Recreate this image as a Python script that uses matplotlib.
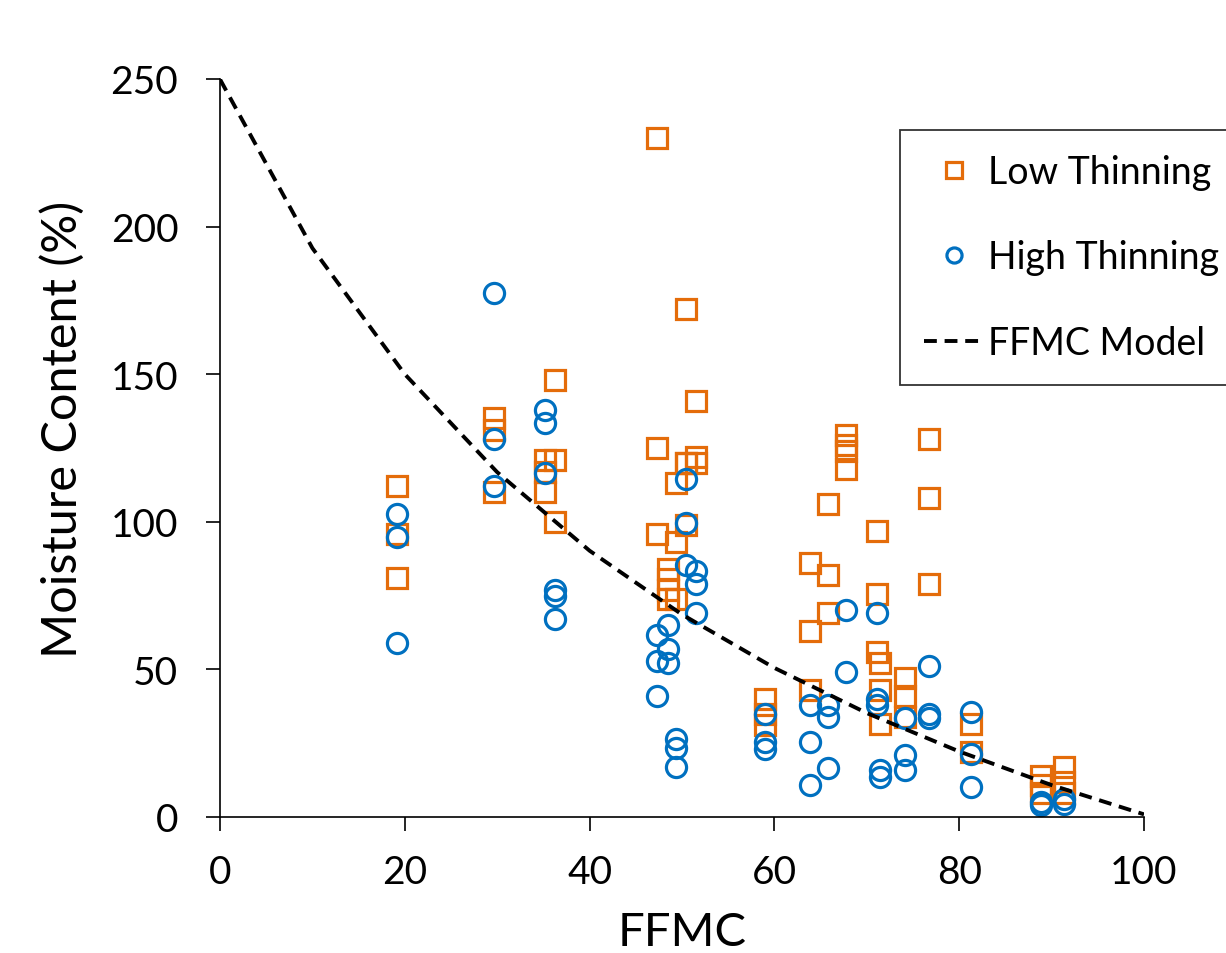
import matplotlib.pyplot as plt

plt.rcParams['font.family'] = ['Lato', 'DejaVu Sans']

# Low thinning plots (FFMC, moisture content %)
low_ffmc = [19.2, 19.2, 19.2,
            29.7, 29.7, 29.7,
            35.2, 35.2, 35.2,
            36.3, 36.3, 36.3,
            47.3, 47.3, 47.3,
            48.5, 48.5, 48.5, 48.5, 49.4, 49.4, 49.4,
            50.4, 50.4, 50.4, 50.4,
            51.5, 51.5, 51.5,
            59.0, 59.0, 59.0,
            63.9, 63.9, 63.9,
            65.8, 65.8, 65.8,
            67.7, 67.7, 67.7, 67.7,
            71.1, 71.1, 71.1, 71.4, 71.4, 71.4,
            74.1, 74.1, 74.1,
            76.7, 76.7, 76.7,
            81.3, 81.3,
            88.9, 88.9, 88.9,
            91.3, 91.3, 91.3]
low_mc = [112, 96, 81,
          135, 131, 110,
          121, 117, 110,
          148, 121, 100,
          230, 125, 96,
          84, 80.5, 77, 74, 113, 93, 74,
          172, 120, 99, 120,
          141, 122, 120,
          40, 35, 31,
          86, 63, 43,
          106, 82, 69,
          129.5, 126, 124, 118,
          97, 75.5, 56, 52, 43, 31.5,
          47, 41, 34,
          128, 108, 79,
          31.5, 22,
          14, 11, 8,
          17, 12, 8]

# High thinning plots
high_ffmc = [19.2, 19.2, 19.2,
             29.7, 29.7, 29.7,
             35.2, 35.2, 35.2,
             36.3, 36.3, 36.3,
             47.3, 47.3, 47.3,
             48.5, 48.5, 48.5,
             49.4, 49.4, 49.4,
             50.4, 50.4, 50.4,
             51.5, 51.5, 51.5,
             59.0, 59.0, 59.0,
             63.9, 63.9, 63.9,
             65.8, 65.8, 65.8,
             67.7, 67.7,
             71.1, 71.1, 71.1, 71.4, 71.4,
             74.1, 74.1, 74.1,
             76.7, 76.7, 76.7,
             81.3, 81.3, 81.3,
             88.9, 88.9,
             91.3, 91.3]
high_mc = [102.5, 95, 59,
           177.5, 128, 112,
           138, 133.5, 116.5,
           77, 75, 67,
           61.5, 53, 41,
           65, 57, 52,
           26.5, 23.5, 17,
           114.5, 99.5, 85.5,
           83.5, 79, 69,
           35, 25.5, 23,
           38, 25.5, 11,
           38, 34, 16.5,
           70, 49,
           69, 40, 38, 16, 13.5,
           33.5, 21, 16,
           51, 35, 33.5,
           35.5, 21.5, 10,
           5, 4,
           6, 4.5]

# FFMC model curve
model_ffmc = [0, 10, 20, 30, 40, 50, 60, 70, 80, 90, 100]
model_mc = [249.9, 192.7, 150.0, 116.8, 90.2, 68.6, 50.5, 35.2, 22.2, 10.8, 0.9]

orange = '#E46C0A'
blue = '#0070C0'

fig = plt.figure(figsize=(12.26, 9.54), dpi=100)
ax = fig.add_axes([220 / 1226, 136 / 954, 924 / 1226, 738 / 954])

ax.plot(low_ffmc, low_mc, linestyle='none', marker='s', markersize=15,
        markerfacecolor='none', markeredgecolor=orange, markeredgewidth=2.3,
        label='Low Thinning')
ax.plot(high_ffmc, high_mc, linestyle='none', marker='o', markersize=14.5,
        markerfacecolor='none', markeredgecolor=blue, markeredgewidth=2.3,
        label='High Thinning')
ax.plot(model_ffmc, model_mc, color='black', linewidth=2.8,
        linestyle=(0, (3.3, 2.0)), label='FFMC Model')

ax.set_xlim(0, 100)
ax.set_ylim(0, 250)
ax.set_xticks([0, 20, 40, 60, 80, 100])
ax.set_yticks([0, 50, 100, 150, 200, 250])
ax.tick_params(labelsize=28, length=10, width=1.2, direction='out')
ax.tick_params(axis='x', pad=17)
ax.tick_params(axis='y', pad=20)

ax.spines['top'].set_visible(False)
ax.spines['right'].set_visible(False)
for s in ('left', 'bottom'):
    ax.spines[s].set_linewidth(1.2)

ax.set_xlabel('FFMC', fontsize=34)
ax.set_ylabel('Moisture Content (%)', fontsize=35)
ax.xaxis.set_label_coords(0.5, -0.128)
ax.yaxis.set_label_coords(-0.146, 0.526)

leg = fig.legend(loc='upper left', bbox_to_anchor=(900 / 1226, 1 - 131 / 954),
                 fontsize=27, frameon=True, fancybox=False, edgecolor='black',
                 markerscale=0.75, handlelength=1.62, handletextpad=0.1,
                 labelspacing=1.33, borderpad=0.63, borderaxespad=0)
leg.get_frame().set_linewidth(1.3)

fig.savefig('out.png', dpi=100)
